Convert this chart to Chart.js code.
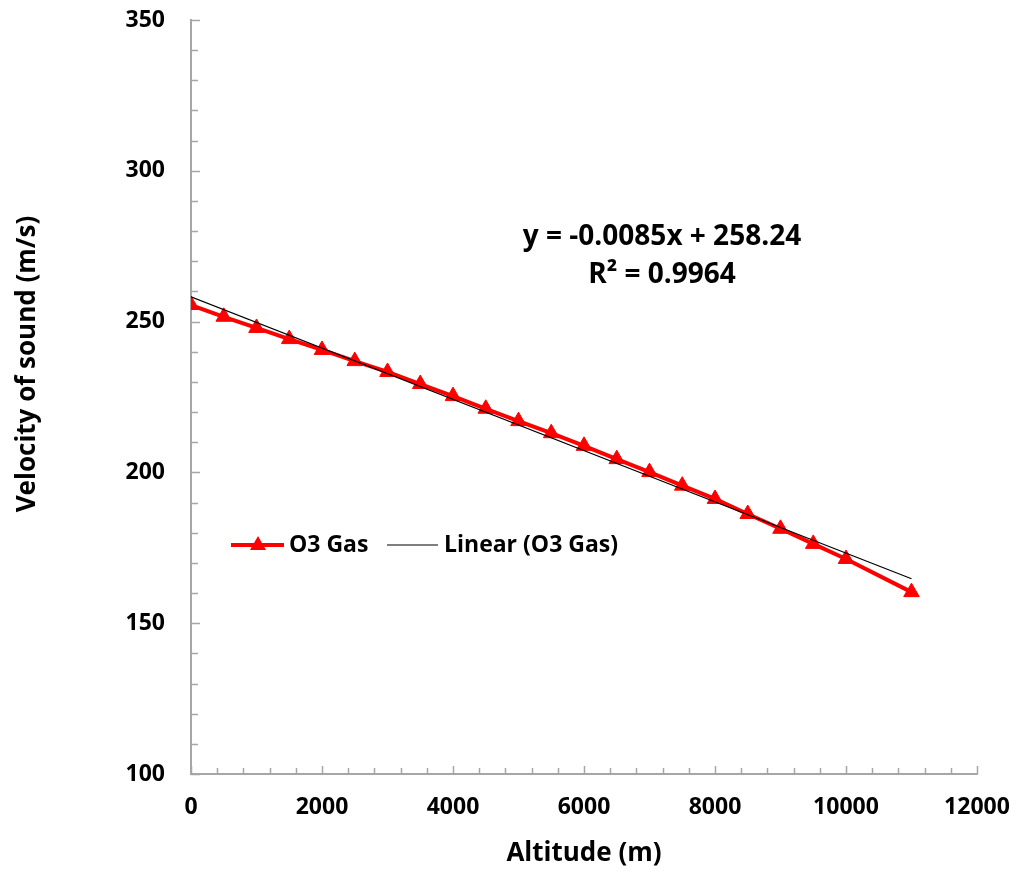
<!DOCTYPE html>
<html>
<head>
<meta charset="utf-8">
<script src="https://cdn.jsdelivr.net/npm/chart.js@4"></script>
<style>
  html, body { margin: 0; padding: 0; background: #fff; }
  #wrap { width: 1017px; height: 873px; }
</style>
</head>
<body>
<div id="wrap"><canvas id="c" width="1017" height="873"></canvas></div>
<script>
// altitude (m) vs velocity of sound in O3 gas
const altitude = [0, 500, 1000, 1500, 2000, 2500, 3000, 3500, 4000, 4500, 5000,
  5500, 6000, 6500, 7000, 7500, 8000, 8500, 9000, 9500, 10000, 11000];
const velocity = [255.5, 251.6, 247.9, 244.2, 240.6, 236.9, 233.3, 229.3, 225.3, 221.1, 217.0,
  213.0, 208.8, 204.4, 200.1, 195.6, 191.2, 186.2, 181.3, 176.3, 171.3, 160.3];

// excel trendline endpoints (y = -0.0085x + 258.24)
const trendX = [0, 11000];
const trendY = [258.24, 164.74];

const eqLines = ['y = -0.0085x + 258.24', 'R\u00B2 = 0.9964'];

const FONT = '"Open Sans", "DejaVu Sans", sans-serif';
const AXIS_GREY = '#a6a6a6';
const W = 1017, H = 873;

// excel-style tick marks: drawn inside the plot, minor + major
const innerTicks = {
  id: 'innerTicks',
  afterDraw(chart) {
    const { ctx, scales: { x, y } } = chart;
    ctx.save();
    ctx.strokeStyle = AXIS_GREY;
    ctx.lineWidth = 1.5;
    ctx.beginPath();
    for (let v = 100; v <= 350; v += 10) {
      const py = Math.round(y.getPixelForValue(v)) + 0.5;
      const len = v % 50 === 0 ? 9 : 7;
      ctx.moveTo(x.left, py);
      ctx.lineTo(x.left + len, py);
    }
    for (let v = 0; v <= 12000; v += 400) {
      const px = Math.round(x.getPixelForValue(v)) + 0.5;
      const len = v % 2000 === 0 ? 8 : 6;
      ctx.moveTo(px, y.bottom);
      ctx.lineTo(px, y.bottom - len);
    }
    ctx.stroke();
    ctx.restore();
  },
};

// legend sits inside the plot area like the original, plus the trendline label
// and the y title (excel puts it a bit above the middle of the axis)
const insideLegend = {
  id: 'insideLegend',
  afterDraw(chart) {
    const { ctx } = chart;
    const yMid = 545;
    ctx.save();
    ctx.font = `bold 23px ${FONT}`;
    ctx.textBaseline = 'middle';

    ctx.strokeStyle = '#ff0000';
    ctx.lineWidth = 4;
    ctx.beginPath();
    ctx.moveTo(231, yMid); ctx.lineTo(284, yMid);
    ctx.stroke();
    ctx.fillStyle = '#ff0000';
    ctx.beginPath();
    ctx.moveTo(258, yMid - 9); ctx.lineTo(266, yMid + 5); ctx.lineTo(250, yMid + 5);
    ctx.closePath(); ctx.fill();
    ctx.fillStyle = '#000';
    ctx.fillText('O3 Gas', 289, yMid);

    ctx.strokeStyle = '#000';
    ctx.lineWidth = 1.2;
    ctx.beginPath();
    ctx.moveTo(387, yMid); ctx.lineTo(438, yMid);
    ctx.stroke();
    ctx.fillText('Linear (O3 Gas)', 444, yMid);

    ctx.font = `bold 28px ${FONT}`;
    ctx.textAlign = 'center';
    ctx.fillText(eqLines[0], 662, 237);
    ctx.fillText(eqLines[1], 662, 275);

    ctx.font = `bold 26px ${FONT}`;
    ctx.translate(28, 364);
    ctx.rotate(-Math.PI / 2);
    ctx.fillText('Velocity of sound (m/s)', 0, 0);
    ctx.restore();
  },
};

const tickFont = { family: FONT, size: 23, weight: 'bold' };

new Chart(document.getElementById('c'), {
  type: 'scatter',
  data: {
    datasets: [
      {
        label: 'Linear (O3 Gas)',
        data: trendX.map((v, i) => ({ x: v, y: trendY[i] })),
        showLine: true,
        borderColor: '#000',
        borderWidth: 1.2,
        pointRadius: 0,
        order: 0,
      },
      {
        label: 'O3 Gas',
        data: altitude.map((v, i) => ({ x: v, y: velocity[i] })),
        showLine: true,
        borderColor: '#ff0000',
        backgroundColor: '#ff0000',
        borderWidth: 4,
        pointStyle: 'triangle',
        pointRadius: 9,
        pointBorderWidth: 1,
        order: 1,
      },
    ],
  },
  options: {
    responsive: false,
    animation: false,
    layout: { padding: { left: 6, top: 20, right: 40, bottom: 2 } },
    plugins: { legend: { display: false }, tooltip: { enabled: false } },
    scales: {
      x: {
        type: 'linear',
        min: 0, max: 12000,
        grid: { display: false, drawTicks: false },
        border: { display: true, color: AXIS_GREY, width: 2 },
        ticks: { stepSize: 2000, padding: 20, color: '#000', font: tickFont, callback: (v) => String(v) },
        title: { display: true, text: 'Altitude (m)', color: '#000', padding: { top: 0, bottom: 2 },
          font: { family: FONT, size: 26, weight: 'bold' } },
        afterFit(s) {
          s.height = H - 774 - 2;
          s.paddingLeft = 0; s.paddingRight = 0;
        },
      },
      y: {
        type: 'linear',
        min: 100, max: 350,
        grid: { display: false, drawTicks: false },
        border: { display: true, color: AXIS_GREY, width: 2 },
        ticks: { stepSize: 50, padding: 26, color: '#000', font: tickFont },
        title: { display: false },
        afterFit(s) {
          s.width = 191 - 6;
          s.paddingTop = 0; s.paddingBottom = 0;
        },
      },
    },
  },
  plugins: [innerTicks, insideLegend],
});
</script>
</body>
</html>
